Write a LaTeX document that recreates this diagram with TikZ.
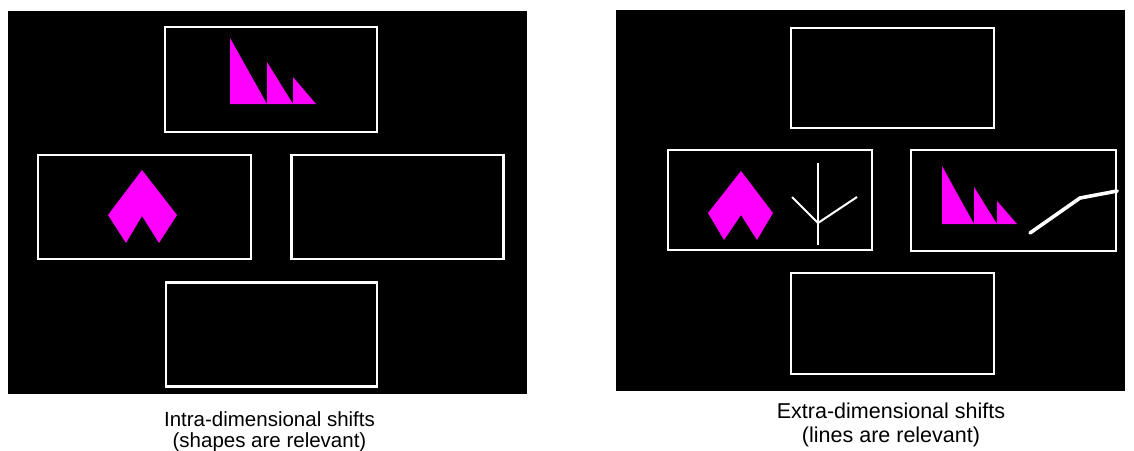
\documentclass[tikz,border=0pt]{standalone}
\usepackage{fontspec}
\setmainfont{Liberation Sans}
\definecolor{mag}{RGB}{255,0,255}
\tikzset{
  panel/.style={fill=black, draw=none},
  cell/.style={draw=white, line width=2.4pt, inner sep=0pt},
  shape fill/.style={fill=mag, draw=none},
  stem/.style={draw=white, line width=2pt},
  wire/.style={draw=white, line width=3.6pt, line cap=round, line join=round},
  caption/.style={inner sep=0pt, anchor=base, align=center}
}
\begin{document}
\begin{tikzpicture}[x=1pt,y=-1pt]
\useasboundingbox (0,0) rectangle (1134,450);
% panels
\fill[panel] (8,11) rectangle (527,394);
\fill[panel] (616,10) rectangle (1125,391);
% left panel boxes
\node[cell, minimum width=212pt, minimum height=105pt] (LT) at (271,79.5) {};
\node[cell, minimum width=213pt, minimum height=104pt] (LL) at (144.5,207) {};
\node[cell, minimum width=212pt, minimum height=104pt] (LR) at (397.5,207) {};
\node[cell, minimum width=211pt, minimum height=104pt] (LB) at (271.5,334.5) {};
% right panel boxes
\node[cell, minimum width=203pt, minimum height=100pt] (RT) at (892.5,78) {};
\node[cell, minimum width=204pt, minimum height=100pt] (RL) at (770,200) {};
\node[cell, minimum width=205pt, minimum height=101pt] (RR) at (1013.5,200.5) {};
\node[cell, minimum width=203pt, minimum height=101pt] (RB) at (892.5,323.5) {};
% left: triangles in top box
\fill[shape fill] (230,38) -- (267,104) -- (230,104) -- cycle;
\fill[shape fill] (267,62) -- (293,104) -- (267,104) -- cycle;
\fill[shape fill] (293,77) -- (316,104) -- (293,104) -- cycle;
% left: chevron in left box
\fill[shape fill] (142,170) -- (177,215) -- (159,243) -- (142,216) -- (126,243) -- (108,215) -- cycle;
% right: chevron and tree in left box
\fill[shape fill] (741,171) -- (773,213) -- (757,240) -- (741,215) -- (724,240) -- (708,213) -- cycle;
\coordinate (tt) at (818,163);
\coordinate (tb) at (818,245);
\coordinate (tj) at (818,223);
\coordinate (tl) at (792,197);
\coordinate (tr) at (857,197);
\draw[stem] (tt) -- (tb);
\draw[stem] (tl) -- (tj) -- (tr);
% right: triangles and line in right box
\fill[shape fill] (942,166) -- (974,224) -- (942,224) -- cycle;
\fill[shape fill] (974,187) -- (997,224) -- (974,224) -- cycle;
\fill[shape fill] (997,201) -- (1017,224) -- (997,224) -- cycle;
\coordinate (wa) at (1030,233);
\coordinate (wb) at (1080,198);
\coordinate (wc) at (RR.east |- 0,191);
\draw[wire] (wa) -- (wb) -- (wc);
% captions
\node[caption, font=\fontsize{20.5}{24}\selectfont] (capL1) at (269.5,426) {Intra-dimensional shifts};
\node[caption, font=\fontsize{20.5}{24}\selectfont] (capL2) at (269.5,447) {(shapes are relevant)};
\node[caption, font=\fontsize{21.5}{25}\selectfont] (capR1) at (891,418) {Extra-dimensional shifts};
\node[caption, font=\fontsize{21.5}{25}\selectfont] (capR2) at (891,442) {(lines are relevant)};
\end{tikzpicture}
\end{document}
